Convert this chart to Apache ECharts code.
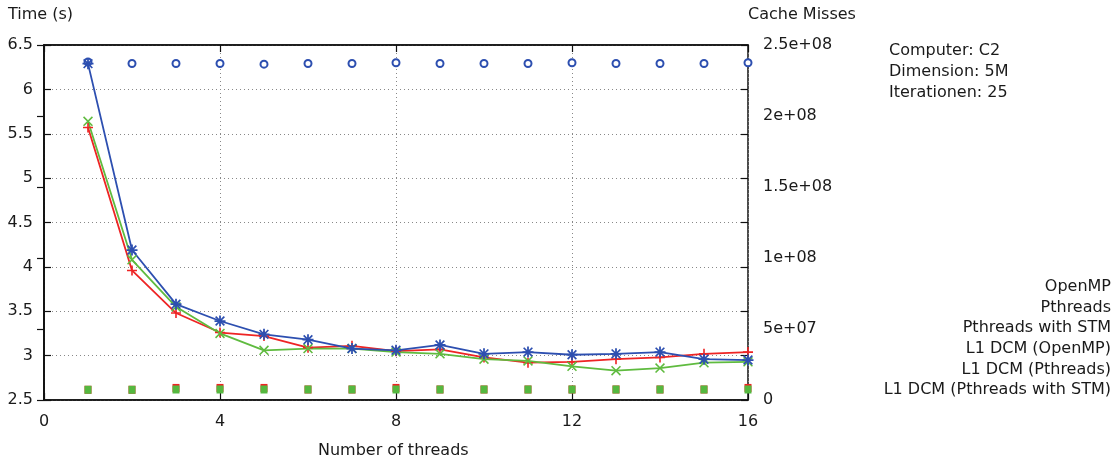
<!DOCTYPE html>
<html>
<head>
<meta charset="utf-8">
<script src="https://cdn.jsdelivr.net/npm/echarts@6/dist/echarts.min.js"></script>
<style>
html,body{margin:0;padding:0;background:#fff;}
#chart{width:1120px;height:463px;}
</style>
</head>
<body>
<div id="chart"></div>
<script>
// ---- data ----
const threads = [1,2,3,4,5,6,7,8,9,10,11,12,13,14,15,16];
const timeOpenMP   = [5.57,3.96,3.48,3.26,3.22,3.09,3.11,3.05,3.07,2.98,2.92,2.93,2.96,2.98,3.02,3.04];
const timePthreads = [5.64,4.08,3.55,3.25,3.06,3.08,3.08,3.04,3.02,2.96,2.94,2.88,2.83,2.86,2.92,2.93];
const timeSTM      = [6.29,4.19,3.58,3.39,3.24,3.18,3.08,3.06,3.12,3.02,3.04,3.01,3.02,3.04,2.96,2.95];
const dcmOpenMP    = [7.2e6,7.2e6,8.5e6,8.5e6,8.5e6,7.4e6,7.4e6,8.5e6,7.4e6,7.4e6,7.4e6,7.4e6,7.4e6,7.4e6,7.4e6,8.5e6];
const dcmPthreads  = [7.2e6,7.2e6,7.4e6,7.4e6,7.4e6,7.4e6,7.4e6,7.4e6,7.4e6,7.4e6,7.4e6,7.4e6,7.4e6,7.4e6,7.4e6,7.4e6];
const dcmSTM       = [2.38e8,2.37e8,2.37e8,2.37e8,2.365e8,2.37e8,2.37e8,2.375e8,2.37e8,2.37e8,2.37e8,2.375e8,2.37e8,2.37e8,2.37e8,2.375e8];
const seriesNames = ['OpenMP','Pthreads','Pthreads with STM','L1 DCM (OpenMP)','L1 DCM (Pthreads)','L1 DCM (Pthreads with STM)'];
const xTickLabels = ['0','4','8','12','16'];
const yTickLabels = ['2.5','3','3.5','4','4.5','5','5.5','6','6.5'];
const y2TickLabels = ['0','5e+07','1e+08','1.5e+08','2e+08','2.5e+08'];
const infoLines = ['Computer: C2','Dimension: 5M','Iterationen: 25'];
const xTitle = 'Number of threads';
const yTitle = 'Time (s)';
const y2Title = 'Cache Misses';

// ---- styles ----
const RED = '#ee2424', GREEN = '#5fbb3f', BLUE = '#2d4fb0';
const FONT = 'DejaVu Sans';
const TXT = '#1a1a1a';
const PLUS = 'path://M4.2,0H5.8V10H4.2Z M0,4.2H10V5.8H0Z';
const CROSS = 'path://M0,1.1L1.1,0L10,8.9L8.9,10Z M8.9,0L10,1.1L1.1,10L0,8.9Z';
const STAR = 'path://M4.2,0H5.8V10H4.2Z M0,4.2H10V5.8H0Z M0.5,1.6L1.6,0.5L9.5,8.4L8.4,9.5Z M8.4,0.5L9.5,1.6L1.6,9.5L0.5,8.4Z';

const pair = (xs, ys) => xs.map((x, i) => [x, ys[i]]);

function lineSeries(name, data, color, symbol, size) {
  return {
    name, type: 'line', xAxisIndex: 0, yAxisIndex: 0,
    data: pair(threads, data),
    symbol, symbolSize: size,
    lineStyle: { color, width: 1.8 },
    itemStyle: { color, opacity: 1 },
    animation: false, silent: true
  };
}
function scatterSeries(name, data, color, symbol, size, extra) {
  return Object.assign({
    name, type: 'scatter', xAxisIndex: 0, yAxisIndex: 1,
    data: pair(threads, data),
    symbol, symbolSize: size,
    itemStyle: { color, opacity: 1 },
    animation: false, silent: true
  }, extra || {});
}

const gridL = 44, gridR = 372, gridT = 45, gridB = 63;
const legendGraphics = seriesNames.map((n, i) => ({
  type: 'text', right: 9, top: 279 + i * 20.6,
  style: { text: n, font: '16px "' + FONT + '"', fill: TXT, textAlign: 'right' }
}));
const infoGraphics = infoLines.map((t, i) => ({
  type: 'text', left: 889, top: 43 + i * 20.8,
  style: { text: t, font: '16px "' + FONT + '"', fill: TXT }
}));

const chart = echarts.init(document.getElementById('chart'), null, { renderer: 'canvas' });
const axisLineStyle = { color: '#111', width: 1.5 };
const tickStyle = { color: '#111', width: 1.2 };
chart.setOption({
  backgroundColor: '#fff',
  animation: false,
  grid: { left: gridL, right: gridR, top: gridT, bottom: gridB, show: true, borderColor: '#111', borderWidth: 1.5, backgroundColor: 'transparent' },
  xAxis: [
    {
      type: 'value', min: 0, max: 16, interval: 4, position: 'bottom',
      axisLine: { show: true, lineStyle: axisLineStyle },
      axisTick: { show: true, inside: true, length: 7, lineStyle: tickStyle },
      axisLabel: { margin: 14, fontFamily: FONT, fontSize: 16, color: TXT,
        formatter: (v) => xTickLabels[Math.round(v / 4)] },
      splitLine: { show: true, lineStyle: { color: '#888', type: [1, 3], width: 1 } }
    },
    {
      type: 'value', min: 0, max: 16, interval: 4, position: 'top',
      axisLine: { show: true, lineStyle: axisLineStyle },
      axisTick: { show: true, inside: true, length: 7, lineStyle: tickStyle },
      axisLabel: { show: false }, splitLine: { show: false }
    }
  ],
  yAxis: [
    {
      type: 'value', min: 2.5, max: 6.5, interval: 0.5, position: 'left',
      axisLine: { show: true, lineStyle: axisLineStyle },
      axisTick: { show: true, inside: true, length: 7, lineStyle: tickStyle },
      axisLabel: { margin: 11, fontFamily: FONT, fontSize: 16, color: TXT,
        formatter: (v) => yTickLabels[Math.round((v - 2.5) / 0.5)] },
      splitLine: { show: true, lineStyle: { color: '#888', type: [1, 3], width: 1 } }
    },
    {
      type: 'value', min: 0, max: 2.5e8, interval: 5e7, position: 'right',
      axisLine: { show: true, lineStyle: axisLineStyle },
      axisTick: { show: true, inside: true, length: 7, lineStyle: tickStyle },
      axisLabel: { margin: 15, fontFamily: FONT, fontSize: 16, color: TXT, align: 'left',
        formatter: (v) => y2TickLabels[Math.round(v / 5e7)] },
      splitLine: { show: false }
    },
    {
      type: 'value', min: 2.5, max: 6.5, interval: 0.5, position: 'right',
      axisLine: { show: false },
      axisTick: { show: true, inside: true, length: 7, lineStyle: tickStyle },
      axisLabel: { show: false }, splitLine: { show: false }
    }
  ],
  graphic: [
    { type: 'text', left: 8, top: 7, style: { text: yTitle, font: '16px "' + FONT + '"', fill: TXT } },
    { type: 'text', left: 748, top: 7, style: { text: y2Title, font: '16px "' + FONT + '"', fill: TXT } },
    { type: 'text', left: 318, top: 443, style: { text: xTitle, font: '16px "' + FONT + '"', fill: TXT } }
  ].concat(infoGraphics, legendGraphics),
  series: [
    lineSeries(seriesNames[0], timeOpenMP, RED, PLUS, 10),
    lineSeries(seriesNames[1], timePthreads, GREEN, CROSS, 10),
    lineSeries(seriesNames[2], timeSTM, BLUE, STAR, 11),
    scatterSeries(seriesNames[3], dcmOpenMP, RED, 'rect', [7, 8]),
    scatterSeries(seriesNames[4], dcmPthreads, '#55b83f', 'rect', [7, 8]),
    scatterSeries(seriesNames[5], dcmSTM, BLUE, 'emptyCircle', 7, { itemStyle: { color: BLUE, borderWidth: 1.6, opacity: 1 } })
  ]
});
</script>
</body>
</html>
